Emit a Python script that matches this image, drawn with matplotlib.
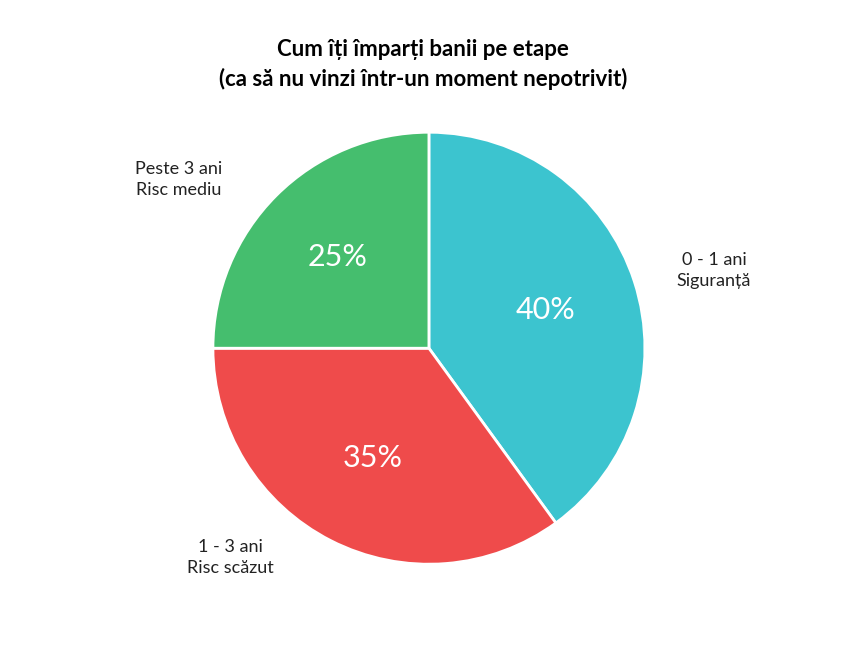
import matplotlib
matplotlib.use("Agg")
import matplotlib.pyplot as plt

labels = ["0 - 1 ani\nSiguranță", "1 - 3 ani\nRisc scăzut", "Peste 3 ani\nRisc mediu"]
values = [40, 35, 25]
colors = ["#3CC4CF", "#EF4B4B", "#45BE6E"]
# label positions (radius units from centre)
label_pos = [(1.32, 0.36), (-0.92, -0.97), (-1.16, 0.78)]

plt.rcParams['font.family'] = ['Lato', 'DejaVu Sans']

fig = plt.figure(figsize=(8.46, 6.46), dpi=100)
ax = fig.add_axes([0.507 - 0.2553, 0.461 - 0.3344, 0.5106, 0.6687])

wedges, texts = ax.pie(values, colors=colors, startangle=90, counterclock=False,
                       wedgeprops=dict(edgecolor="white", linewidth=2), radius=1)
import numpy as np
ang = 90.0
for v, w in zip(values, wedges):
    mid = np.deg2rad(ang - v * 3.6 / 2)
    d = 0.57 if v != 25 else 0.6
    ax.text(d * np.cos(mid), d * np.sin(mid), str(v) + "%", color="white",
            fontsize=22, ha="center", va="center")
    ang -= v * 3.6
for lab, (x, y) in zip(labels, label_pos):
    ax.text(x, y, lab, fontsize=13, ha="center", va="center", color="#222222",
            linespacing=1.4)
ax.set_xlim(-1, 1)
ax.set_ylim(-1, 1)
ax.set_aspect("equal")

fig.text(0.5, 0.90, "Cum îți împarți banii pe etape\n(ca să nu vinzi într-un moment nepotrivit)",
         ha="center", va="center", fontsize=16, fontweight="bold", linespacing=1.4)

fig.savefig("out.png", dpi=100)
